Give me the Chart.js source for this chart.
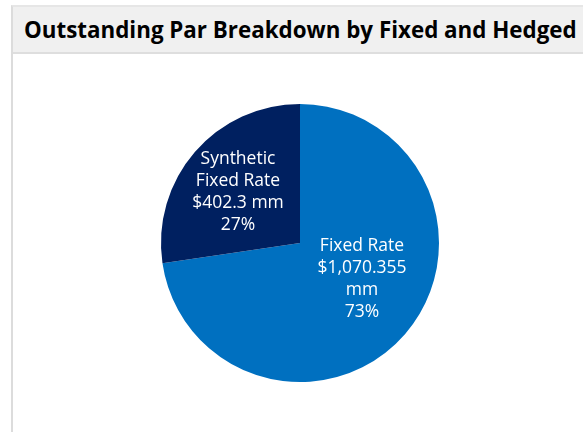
<!DOCTYPE html>
<html>
<head>
<meta charset="utf-8">
<script src="https://cdn.jsdelivr.net/npm/chart.js@4/dist/chart.umd.min.js"></script>
<style>
  html, body { margin: 0; padding: 0; background: #ffffff; }
  body { width: 583px; height: 432px; position: relative; overflow: hidden; font-family: "Open Sans", "DejaVu Sans", sans-serif; }
  #panel { position: absolute; left: 11px; top: 5px; width: 640px; height: 460px; border-left: 2px solid #dcdcdc; border-top: 2px solid #e6e6e6; box-sizing: border-box; }
  #header { position: absolute; left: 0; top: 0; right: 0; height: 45px; background: #f0f0f0; border-bottom: 2px solid #dedede; }
  #title { position: absolute; left: 11px; top: 0; line-height: 45px; font-weight: 700; color: #000; white-space: nowrap; }
  #chart { position: absolute; left: 0; top: 0; }
</style>
</head>
<body>
<div id="panel"><div id="header"><div id="title">Outstanding Par Breakdown by Fixed and Hedged</div></div></div>
<canvas id="chart" width="583" height="432"></canvas>
<script>
// Outstanding par, $ millions
const categories = ['Fixed Rate', 'Synthetic Fixed Rate'];
const labelLines = [['Fixed Rate'], ['Synthetic', 'Fixed Rate']];
const valueText = [['$1,070.355', 'mm'], ['$402.3 mm']];
const parValues = [1070.355, 402.3];
const sliceColors = ['#0070c0', '#002060'];

// fit header text to its box width
(function fitTitle() {
  const el = document.getElementById('title');
  const ctx = document.createElement('canvas').getContext('2d');
  const target = 553;
  ctx.font = '700 20px "Open Sans"';
  const w = ctx.measureText(el.textContent).width;
  el.style.fontSize = (20 * target / w).toFixed(2) + 'px';
})();

// in-slice labels: name, amount and share, offset from the pie centre
const labelOffsets = [{ dx: 62, dy: 36 }, { dx: -62, dy: -51 }];
const sliceLabels = {
  id: 'sliceLabels',
  afterDatasetsDraw(chart) {
    const ctx = chart.ctx;
    const meta = chart.getDatasetMeta(0);
    const data = chart.data.datasets[0].data;
    const total = data.reduce((a, b) => a + b, 0);
    ctx.save();
    ctx.fillStyle = '#ffffff';
    ctx.font = '17.5px "Open Sans"';
    ctx.textAlign = 'center';
    ctx.textBaseline = 'middle';
    meta.data.forEach((arc, i) => {
      const lines = [...labelLines[i], ...valueText[i], Math.round(data[i] / total * 100) + '%'];
      const lh = 22;
      const cx = arc.x + labelOffsets[i].dx;
      const cy = arc.y + labelOffsets[i].dy;
      const y0 = cy - (lines.length - 1) * lh / 2;
      lines.forEach((t, k) => ctx.fillText(t, cx, y0 + k * lh));
    });
    ctx.restore();
  }
};

new Chart(document.getElementById('chart'), {
  type: 'pie',
  data: {
    labels: categories,
    datasets: [{
      data: parValues,
      backgroundColor: sliceColors,
      borderWidth: 0
    }]
  },
  options: {
    responsive: false,
    animation: false,
    layout: { padding: { left: 161, right: 144, top: 104, bottom: 50 } },
    plugins: {
      legend: { display: false },
      tooltip: { enabled: false },
      title: { display: false }
    }
  },
  plugins: [sliceLabels]
});
</script>
</body>
</html>
